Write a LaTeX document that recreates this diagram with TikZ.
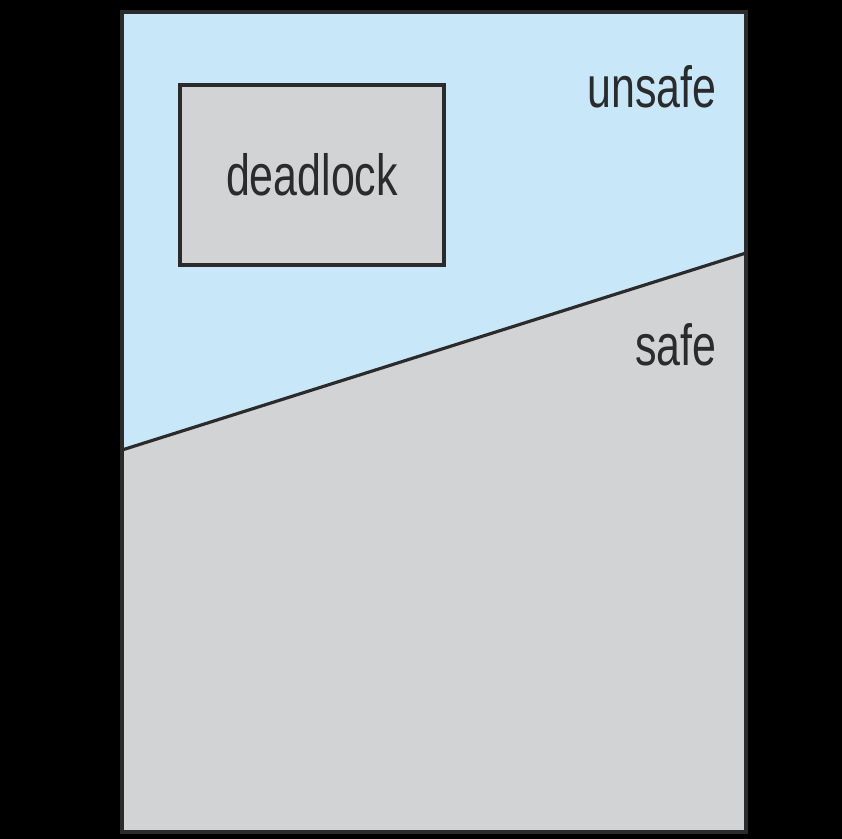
\documentclass[tikz,border=0pt]{standalone}
\usepackage{graphicx}
\usepackage{fontspec}
\setmainfont{Liberation Sans}

\definecolor{unsafeblue}{HTML}{C8E8F9}
\definecolor{safegray}{HTML}{D1D3D4}
\definecolor{edgegray}{HTML}{2B2B2B}

\newcommand{\narrow}[1]{\scalebox{0.74}[1]{#1}}

\begin{document}
\begin{tikzpicture}[x=0.01cm, y=-0.01cm]
    \tikzset{label text/.style={font=\fontsize{16.5}{18}\selectfont, text=edgegray, inner sep=0pt}}
    % black page behind the state space
    \fill[black] (0,0) rectangle (842,839);
    \useasboundingbox (0,0) rectangle (842,839);
    % safe region below, unsafe region above the dividing line
    \fill[safegray] (122,12) rectangle (746,832);
    \fill[unsafeblue] (122,12) -- (746,12) -- (746,253) -- (122,450) -- cycle;
    \draw[edgegray, line width=0.9pt] (122,450) -- (746,253);
    \draw[edgegray, line width=0.9pt] (122,12) rectangle (746,832);
    % deadlock states inside the unsafe region
    \node[draw=edgegray, fill=safegray, line width=0.9pt, minimum width=2.64cm, minimum height=1.8cm,
          label text] (deadlock) at (312,175) {\narrow{deadlock}};
    \node[label text, anchor=base east] (unsafe) at (717,107) {\narrow{unsafe}};
    \node[label text, anchor=base east] (safe) at (717,365) {\narrow{safe}};
\end{tikzpicture}
\end{document}
